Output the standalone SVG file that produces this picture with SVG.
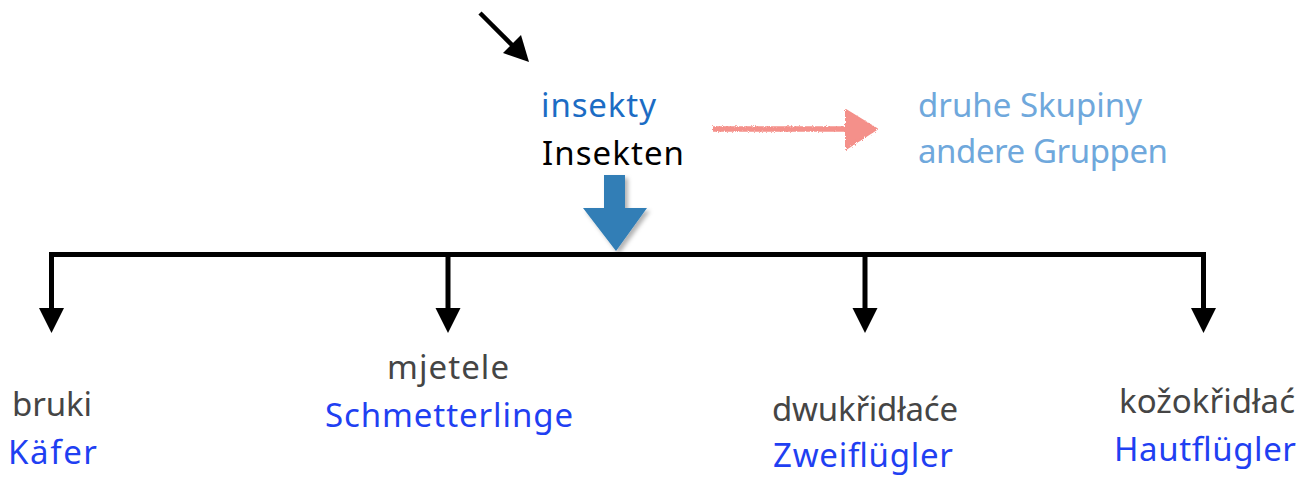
<svg xmlns="http://www.w3.org/2000/svg" width="1309" height="477" viewBox="0 0 1309 477">
<defs>
<style>
text{font-family:"Noto Sans","Open Sans","DejaVu Sans",sans-serif;font-size:33px}
.g{fill:#454545}
.b{fill:#1f40f2}
.lb{fill:#6fa8dc}
.conn{fill:none;stroke:#000;stroke-width:5}
.head{fill:#000}
</style>
<filter id="sh" x="-20%" y="-20%" width="150%" height="150%">
<feDropShadow dx="3" dy="3" stdDeviation="2" flood-color="#000" flood-opacity="0.3"/>
</filter>
<filter id="rough" x="-5%" y="-30%" width="110%" height="160%">
<feTurbulence type="fractalNoise" baseFrequency="0.9" numOctaves="2" seed="3"/>
<feDisplacementMap in="SourceGraphic" scale="3"/>
</filter>
</defs>
<rect width="1309" height="477" fill="#fff"/>
<g id="connectors">
<line x1="480" y1="13" x2="515" y2="48" stroke="#000" stroke-width="4.5"/>
<polygon class="head" points="529,62 503,53 521,35"/>
<g filter="url(#rough)">
<line x1="713" y1="129" x2="848" y2="129" stroke="#f4908a" stroke-width="5.5"/>
<polygon points="846,110 877,129 846,149" fill="#f4908a" stroke="#f4908a" stroke-width="2" stroke-linejoin="round"/>
</g>
<polygon points="604,175 625,175 625,208 647,208 616,251 583,208 604,208" fill="#307eb6" filter="url(#sh)"/>
<path class="conn" d="M51.5 310 V254.5 H1203.5 V310"/>
<line class="conn" x1="448" y1="254.5" x2="448" y2="310"/>
<line class="conn" x1="865" y1="254.5" x2="865" y2="310"/>
<polygon class="head" points="39,308 64,308 51.5,333"/>
<polygon class="head" points="435.5,308 460.5,308 448,333"/>
<polygon class="head" points="852.5,308 877.5,308 865,333"/>
<polygon class="head" points="1191,308 1216,308 1203.5,333"/>
</g>
<g id="insekten">
<text x="541" y="117" fill="#1c6cc4" textLength="115">insekty</text>
<text x="542" y="165" fill="#000" textLength="142">Insekten</text>
</g>
<g id="andere">
<text class="lb" x="918" y="117" textLength="224">druhe Skupiny</text>
<text class="lb" x="918" y="163" textLength="250">andere Gruppen</text>
</g>
<g id="kaefer">
<text class="g" x="12" y="416" textLength="80">bruki</text>
<text class="b" x="8" y="464" textLength="89">Käfer</text>
</g>
<g id="schmetterlinge">
<text class="g" x="387" y="379" textLength="122">mjetele</text>
<text class="b" x="325" y="427" textLength="248">Schmetterlinge</text>
</g>
<g id="zweifluegler">
<text class="g" x="772" y="421" textLength="186">dwukřidłaće</text>
<text class="b" x="773" y="467" textLength="180">Zweiflügler</text>
</g>
<g id="hautfluegler">
<text class="g" x="1119" y="413" textLength="176">kožokřidłać</text>
<text class="b" x="1114" y="461" textLength="182">Hautflügler</text>
</g>
</svg>
